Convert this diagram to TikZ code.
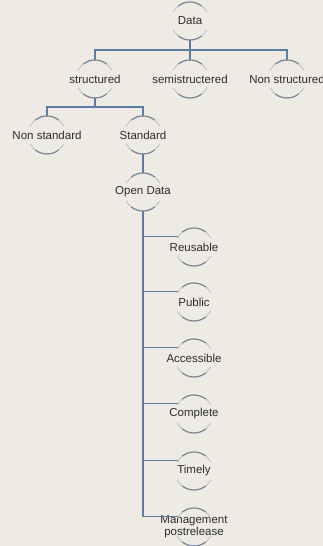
\documentclass[tikz,border=0pt]{standalone}
\usepackage{fontspec}
\setmainfont{Liberation Sans}
\definecolor{bgcol}{RGB}{237,235,227}
\definecolor{linkcol}{RGB}{92,125,163}
\definecolor{arccol}{RGB}{118,132,148}
\definecolor{txtcol}{RGB}{45,45,45}
\tikzset{
  hub/.style={circle,minimum size=38pt,inner sep=0pt,outer sep=0pt,
    label={[font=\fontsize{11.5}{12}\selectfont,text=txtcol,align=center]center:#1}},
  link/.style={draw=linkcol,line width=1.1pt},
  arcfaint/.style={draw=arccol!45,line width=1.1pt},
  arcdark/.style={draw=arccol,line width=1.1pt}
}

\begin{document}
\begin{tikzpicture}[x=1pt,y=-1pt]
  \fill[bgcol] (0,0) rectangle (323,546);
  \useasboundingbox (0,0) rectangle (323,546);

  % top levels
  \node[hub=Data] (data) at (190,21) {};
  \node[hub=structured] (struct) at (95,79) {};
  \node[hub=semistructered] (semi) at (190,79) {};
  \node[hub=Non structured] (nonstruct) at (287,79) {};
  \node[hub=Non standard] (nonstd) at (47,135) {};
  \node[hub=Standard] (std) at (143,135) {};
  \node[hub=Open Data] (open) at (143,192) {};

  % hanging list below Open Data
  \node[hub=Reusable] (reuse) at (194,247) {};
  \node[hub=Public] (public) at (194,302) {};
  \node[hub=Accessible] (access) at (194,358) {};
  \node[hub=Complete] (complete) at (194,414) {};
  \node[hub=Timely] (timely) at (194,471) {};
  \node[hub={Management\\postrelease}] (manage) at (194,527) {};

  % arcs above and below every node
  \foreach \n in {data,struct,semi,nonstruct,nonstd,std,open,reuse,public,access,complete,timely,manage} {
    \draw[arcfaint] (\n.28) arc[start angle=28,end angle=152,radius=19pt];
    \draw[arcfaint] (\n.208) arc[start angle=208,end angle=332,radius=19pt];
    \draw[arcdark] (\n.52) arc[start angle=52,end angle=128,radius=19pt];
    \draw[arcdark] (\n.232) arc[start angle=232,end angle=308,radius=19pt];
  }

  % connectors
  \draw[link] (data.south) -- ++(0,10) -| (struct.north);
  \draw[link] (data.south) -- ++(0,10) -| (nonstruct.north);
  \draw[link] (data.south) -- (semi.north);
  \draw[link] (struct.south) -- ++(0,9) -| (nonstd.north);
  \draw[link] (struct.south) -- ++(0,9) -| (std.north);
  \draw[link] (std.south) -- (open.north);
  \foreach \n in {reuse,public,access,complete,timely,manage}
    \draw[link] (open.south) |- (\n.148);
\end{tikzpicture}
\end{document}
